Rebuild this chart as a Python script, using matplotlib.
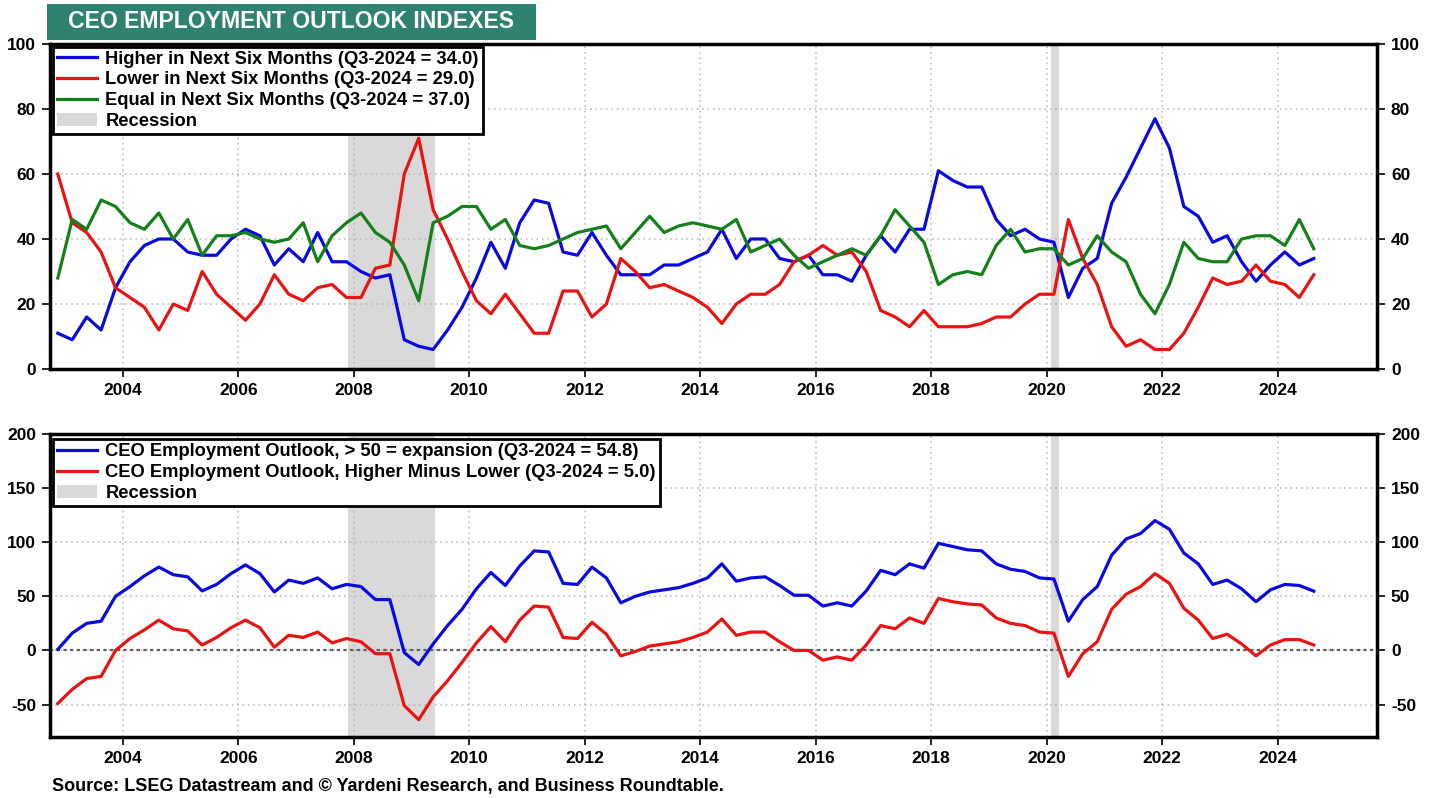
import matplotlib
matplotlib.use("Agg")
import matplotlib.pyplot as plt
from matplotlib.patches import Patch, Rectangle
from matplotlib.lines import Line2D
import pandas as pd

plt.rcParams['font.family'] = ['Liberation Sans', 'DejaVu Sans']
plt.rcParams['font.weight'] = 'bold'

# ---------------- data ----------------
quarters = [str(p) for p in pd.period_range('2002Q4', '2024Q3', freq='Q')]

higher = [11, 9, 16, 12, 25, 33, 38, 40, 40, 36, 35, 35, 40, 43, 41, 32, 37, 33, 42, 33,
          33, 30, 28, 29, 9, 7, 6, 12, 19, 28, 39,
          31, 45, 52, 51, 36, 35, 42, 35, 29, 29, 29, 32, 32, 34, 36, 43, 34, 40, 40,
          34, 33, 35, 29, 29, 27, 35, 41,
          36, 43, 43, 61, 58, 56, 56, 46, 41, 43, 40, 39, 22, 31, 34, 51, 59, 68, 77, 68,
          50, 47, 39, 41, 33, 27, 32, 36, 32, 34]

lower = [60, 45, 42, 36, 25, 22, 19, 12, 20, 18, 30, 23, 19, 15, 20, 29, 23, 21, 25, 26,
         22, 22, 31, 32, 60, 71, 49, 40, 30, 21, 17,
         23, 17, 11, 11, 24, 24, 16, 20, 34, 30, 25, 26, 24, 22, 19, 14, 20, 23, 23,
         26, 33, 35, 38, 35, 36, 30, 18,
         16, 13, 18, 13, 13, 13, 14, 16, 16, 20, 23, 23, 46, 34, 26, 13, 7, 9, 6, 6,
         11, 19, 28, 26, 27, 32, 27, 26, 22, 29]

equal = [28, 46, 43, 52, 50, 45, 43, 48, 40, 46, 35, 41, 41, 42, 40, 39, 40, 45, 33, 41,
         45, 48, 42, 39, 32, 21, 45, 47, 50, 50, 43,
         46, 38, 37, 38, 40, 42, 43, 44, 37, 42, 47, 42, 44, 45, 44, 43, 46, 36, 38,
         40, 35, 31, 33, 35, 37, 35, 41,
         49, 44, 39, 26, 29, 30, 29, 38, 43, 36, 37, 37, 32, 34, 41, 36, 33, 23, 17, 26,
         39, 34, 33, 33, 40, 41, 41, 38, 46, 37]

outlook_index = [1, 16, 25, 27, 50, 59, 69, 77, 70, 68, 55, 61, 71, 79, 71, 54, 65, 62, 67, 57,
                 61, 59, 47, 47, -2, -13, 6, 23, 38, 57, 72,
                 60, 78, 92, 91, 62, 61, 77, 67, 44, 50, 54, 56, 58, 62, 67, 80, 64, 67, 68,
                 60, 51, 51, 41, 44, 41, 55, 74,
                 70, 80, 76, 99, 96, 93, 92, 80, 75, 73, 67, 66, 27, 47, 59, 88, 103, 108, 120, 112,
                 90, 80, 61, 65, 57, 45, 56, 61, 60, 54.8]

higher_minus_lower = [-49, -36, -26, -24, 0, 11, 19, 28, 20, 18, 5, 12, 21, 28, 21, 3, 14, 12, 17, 7,
                      11, 8, -3, -3, -51, -64, -43, -28, -11, 7, 22,
                      8, 28, 41, 40, 12, 11, 26, 15, -5, -1, 4, 6, 8, 12, 17, 29, 14, 17, 17,
                      8, 0, 0, -9, -6, -9, 5, 23,
                      20, 30, 25, 48, 45, 43, 42, 30, 25, 23, 17, 16, -24, -3, 8, 38, 52, 59, 71, 62,
                      39, 28, 11, 15, 6, -5, 5, 10, 10, 5]

recessions = [(2007.90, 2009.40), (2020.07, 2020.22)]
year_ticks = list(range(2004, 2025, 2))

# x positions (mid-quarter, decimal years) derived from quarter labels
x = [int(q[:4]) + (int(q[-1]) - 1) * 0.25 + 0.125 for q in quarters]

# ---------------- styling ----------------
BLUE = '#0a0ade'
RED = '#e81414'
GREEN = '#15801a'
REC = '#d9d9d9'
W, H = 1439, 798

fig = plt.figure(figsize=(W / 100, H / 100), dpi=100)

L, R = 50, 1377
ax1 = fig.add_axes([L / W, 1 - 369 / H, (R - L) / W, 325 / H])
ax2 = fig.add_axes([L / W, 1 - 737 / H, (R - L) / W, 303 / H])


def style(ax, ylim, yticks):
    ax.set_xlim(2002.74, 2025.72)
    ax.set_ylim(*ylim)
    ax.set_xticks(year_ticks)
    ax.set_xticklabels([str(y) for y in year_ticks])
    ax.set_yticks(yticks)
    ax.set_yticklabels([str(t) for t in yticks])
    for s in ax.spines.values():
        s.set_linewidth(2.5)
        s.set_color('black')
    ax.tick_params(axis='both', direction='out', length=6, width=1.2, labelsize=12.5,
                   colors='black')
    ax.tick_params(axis='y', left=True, right=True, labelleft=True, labelright=True, pad=4)
    ax.tick_params(axis='x', pad=4)
    for lab in ax.get_xticklabels() + ax.get_yticklabels():
        lab.set_fontweight('bold')
    ax.grid(True, linestyle=(0, (1, 2.5)), color='#b5b5b5', linewidth=1.1)
    ax.set_axisbelow(True)
    for a, b in recessions:
        ax.axvspan(a, b, color=REC, lw=0, zorder=0.2)


style(ax1, (0, 100), [0, 20, 40, 60, 80, 100])
style(ax2, (-80, 200), [-50, 0, 50, 100, 150, 200])

lw = 2.3
ax1.plot(x, higher, color=BLUE, lw=lw, zorder=3)
ax1.plot(x, lower, color=RED, lw=lw, zorder=3)
ax1.plot(x, equal, color=GREEN, lw=lw, zorder=3)

ax2.axhline(0, color='#606060', lw=1.6, linestyle=(0, (1.5, 1.5)), zorder=1)
ax2.plot(x, outlook_index, color=BLUE, lw=lw, zorder=3)
ax2.plot(x, higher_minus_lower, color=RED, lw=lw, zorder=3)

leg_kw = dict(loc='upper left', borderaxespad=0, fancybox=False, framealpha=1,
              edgecolor='black', handlelength=2.2, handletextpad=0.45, labelspacing=0.2,
              borderpad=0.22, prop={'weight': 'bold', 'size': 13.2})

h1 = [Line2D([], [], color=BLUE, lw=lw), Line2D([], [], color=RED, lw=lw),
      Line2D([], [], color=GREEN, lw=lw), Patch(facecolor=REC, edgecolor='none')]
l1 = ['Higher in Next Six Months (Q3-2024 = %.1f)' % higher[-1],
      'Lower in Next Six Months (Q3-2024 = %.1f)' % lower[-1],
      'Equal in Next Six Months (Q3-2024 = %.1f)' % equal[-1],
      'Recession']
lg1 = ax1.legend(h1, l1, bbox_to_anchor=(0.002, 0.992), **leg_kw)
lg1.get_frame().set_linewidth(2.0)
lg1.set_zorder(5)

h2 = [Line2D([], [], color=BLUE, lw=lw), Line2D([], [], color=RED, lw=lw),
      Patch(facecolor=REC, edgecolor='none')]
l2 = ['CEO Employment Outlook, > 50 = expansion (Q3-2024 = %.1f)' % outlook_index[-1],
      'CEO Employment Outlook, Higher Minus Lower (Q3-2024 = %.1f)' % higher_minus_lower[-1],
      'Recession']
lg2 = ax2.legend(h2, l2, bbox_to_anchor=(0.002, 0.982), **leg_kw)
lg2.get_frame().set_linewidth(2.0)
lg2.set_zorder(5)

# title box
fig.patches.append(Rectangle((47 / W, 1 - 40 / H), (536 - 47) / W, 36 / H,
                             transform=fig.transFigure, facecolor='#2f8270',
                             edgecolor='none', zorder=0))
fig.text((47 + 536) / 2 / W, 1 - 22 / H, 'CEO EMPLOYMENT OUTLOOK INDEXES',
         color='white', fontsize=16.6, fontweight='bold', ha='center', va='center')

fig.text(52 / W, 1 - 787 / H,
         'Source: LSEG Datastream and \u00a9 Yardeni Research, and Business Roundtable.',
         fontsize=13, fontweight='bold', ha='left', va='center')

fig.savefig('out.png', dpi=100)
